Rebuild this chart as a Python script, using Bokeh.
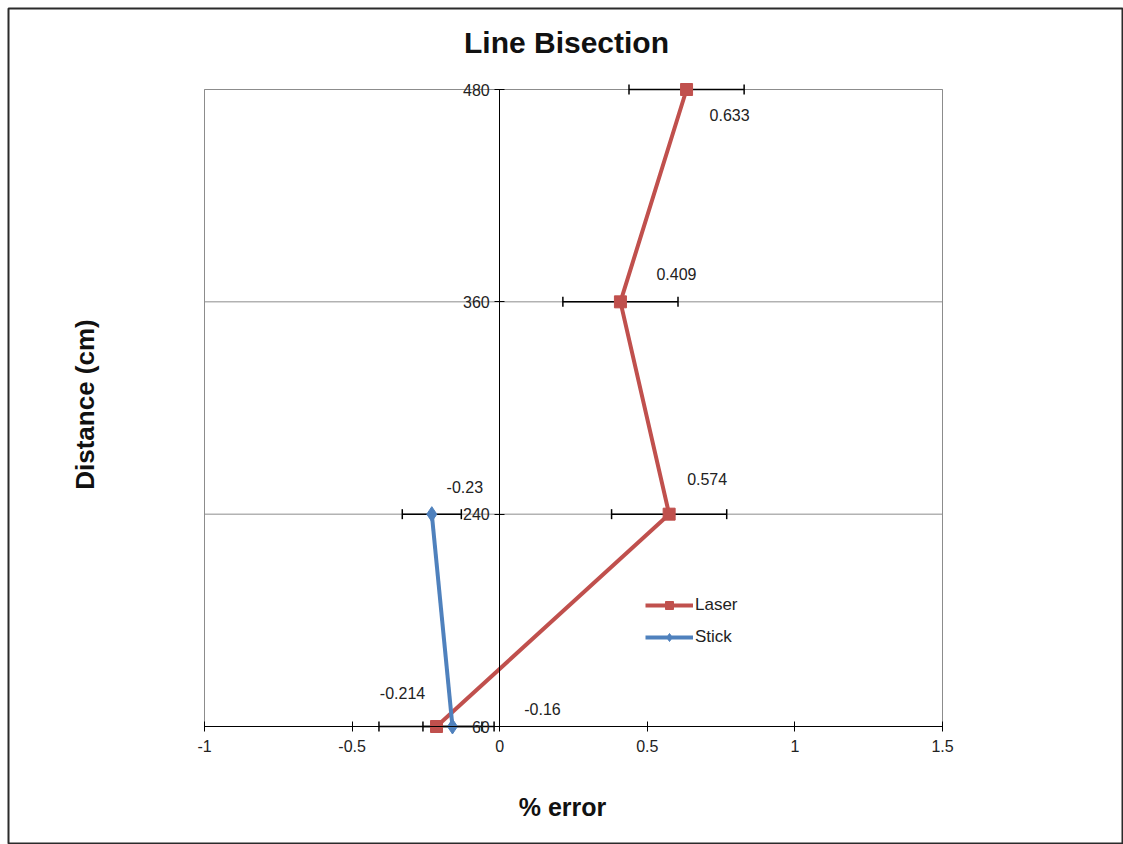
import math
from bokeh.plotting import figure
from bokeh.models import (Range1d, FixedTicker, LinearAxis, Grid, Whisker, TeeHead,
                          ColumnDataSource, Legend, LegendItem)
from bokeh.core.properties import value
from bokeh.embed import file_html
from bokeh.resources import INLINE

# ---------------- data ----------------
distance_categories = ["60", "240", "360", "480"]
laser_distance = ["60", "240", "360", "480"]
laser_error = [-0.214, 0.574, 0.409, 0.633]
laser_errbar = [0.195, 0.195, 0.195, 0.195]
stick_distance = ["60", "240"]
stick_error = [-0.16, -0.23]
stick_errbar = [0.10, 0.10]
x_ticks = [-1, -0.5, 0, 0.5, 1, 1.5]
x_tick_labels = ["-1", "-0.5", "0", "0.5", "1", "1.5"]
series_names = ["Laser", "Stick"]
title_text = "Line Bisection"
x_title = "% error"
y_title = "Distance (cm)"

# ---------------- layout / style ----------------
W, H = 1123, 844
FRAME_L, FRAME_T = 8, 8
PLOT_L, PLOT_R, PLOT_T, PLOT_B = 204, 942, 89, 726
X0, X1 = -1.0, 1.5
n = len(distance_categories)
Y0, Y1 = 0, n - 1
FONT = "Liberation Sans"
RED = "#C0504D"
BLUE = "#4F81BD"
GRID = "#8c8c8c"
TXT = "#222222"

sx = (PLOT_R - PLOT_L) / (X1 - X0)
sy = (PLOT_B - PLOT_T) / (Y1 - Y0)
x_start = X0 - (PLOT_L - FRAME_L) / sx
x_end = X1 + (W - PLOT_R) / sx
y_start = Y0 - (H - PLOT_B) / sy
y_end = Y1 + (PLOT_T - FRAME_T) / sy


def px_x(px):
    return X0 + (px - PLOT_L) / sx


def px_y(py):
    return Y0 + (PLOT_B - py) / sy


pos = {c: i for i, c in enumerate(distance_categories)}

laser_src = ColumnDataSource(dict(
    x=laser_error,
    y=[pos[c] for c in laser_distance],
    lower=[v - e for v, e in zip(laser_error, laser_errbar)],
    upper=[v + e for v, e in zip(laser_error, laser_errbar)],
    label=[f"{v:g}" for v in laser_error],
    dx=[-34, 38, 56, 43],
    dy=[-34, -35, -28, 25],
))
stick_src = ColumnDataSource(dict(
    x=stick_error,
    y=[pos[c] for c in stick_distance],
    lower=[v - e for v, e in zip(stick_error, stick_errbar)],
    upper=[v + e for v, e in zip(stick_error, stick_errbar)],
    label=[f"{v:g}" for v in stick_error],
    dx=[90, 33],
    dy=[-18, -27],
))

p = figure(width=W, height=H,
           x_range=Range1d(x_start, x_end), y_range=Range1d(y_start, y_end),
           x_axis_location=None, y_axis_location=None,
           output_backend="svg", toolbar_location=None,
           min_border_left=FRAME_L, min_border_top=FRAME_T,
           min_border_right=0, min_border_bottom=0)
p.outline_line_color = "#2b2b2b"
p.outline_line_width = 2
p.background_fill_color = "white"
p.border_fill_color = "white"
# drop any default grids
p.center = [r for r in p.center if not isinstance(r, Grid)]

# horizontal gridlines at each category, limited to the plot area
p.segment(x0=[X0] * n, x1=[X1] * n, y0=list(range(n)), y1=list(range(n)),
          line_color=GRID, line_width=1, level="underlay")

# plot-area border
p.quad(left=[X0], right=[X1], bottom=[Y0], top=[Y1],
       fill_color=None, line_color=GRID, line_width=1, level="underlay")

# x axis along y = first category
xaxis = LinearAxis(fixed_location=Y0, bounds=(X0, X1),
                   ticker=FixedTicker(ticks=x_ticks),
                   major_label_overrides={t: l for t, l in zip(x_ticks, x_tick_labels)})
xaxis.axis_line_color = "black"
xaxis.major_tick_line_color = "black"
xaxis.major_tick_in = 5
xaxis.major_tick_out = 5
xaxis.minor_tick_line_color = None
xaxis.major_label_standoff = 8
xaxis.major_label_text_font = FONT
xaxis.major_label_text_font_size = "16px"
xaxis.major_label_text_color = TXT
p.add_layout(xaxis, "below")

# y axis at x = 0
yaxis = LinearAxis(fixed_location=0, bounds=(Y0, Y1),
                   ticker=FixedTicker(ticks=list(range(n))),
                   major_label_overrides={i: c for i, c in enumerate(distance_categories)})
yaxis.axis_line_color = "black"
yaxis.major_tick_line_color = "black"
yaxis.major_tick_in = 5
yaxis.major_tick_out = 5
yaxis.minor_tick_line_color = None
yaxis.major_label_standoff = 5
yaxis.major_label_text_font = FONT
yaxis.major_label_text_font_size = "16px"
yaxis.major_label_text_color = TXT
p.add_layout(yaxis, "left")

# error bars
for src in (laser_src, stick_src):
    p.add_layout(Whisker(source=src, base="y", lower="lower", upper="upper",
                         dimension="width", line_color="black", line_width=1.5,
                         level="underlay",
                         upper_head=TeeHead(size=10, line_color="black", line_width=1.5),
                         lower_head=TeeHead(size=10, line_color="black", line_width=1.5)))

# series
laser_line = p.line("x", "y", source=laser_src, line_color=RED, line_width=4)
laser_pts = p.scatter("x", "y", source=laser_src, marker="square", size=12,
                      fill_color=RED, line_color=RED)
stick_line = p.line("x", "y", source=stick_src, line_color=BLUE, line_width=4)
stick_pts = p.scatter("x", "y", source=stick_src, marker="diamond", size=15,
                      fill_color=BLUE, line_color=BLUE)

# data labels
for src in (laser_src, stick_src):
    p.text("x", "y", text="label", source=src, x_offset="dx", y_offset="dy",
           text_align="center", text_baseline="middle",
           text_font=value(FONT), text_font_size="16px", text_color=TXT)

# titles
p.text(x=[px_x(566)], y=[px_y(42)], text=[title_text], text_align="center",
       text_baseline="middle", text_font=value(FONT), text_font_size="30px",
       text_font_style="bold", text_color="#111111")
p.text(x=[px_x(562)], y=[px_y(806)], text=[x_title], text_align="center",
       text_baseline="middle", text_font=value(FONT), text_font_size="25px",
       text_font_style="bold", text_color="#111111")
p.text(x=[px_x(84)], y=[px_y(404)], text=[y_title], angle=math.pi / 2,
       text_align="center", text_baseline="middle", text_font=value(FONT),
       text_font_size="26px", text_font_style="bold", text_color="#111111")

legend = Legend(items=[LegendItem(label=series_names[0], renderers=[laser_line, laser_pts]),
                       LegendItem(label=series_names[1], renderers=[stick_line, stick_pts])],
                location=(637, 197), orientation="vertical",
                glyph_width=48, glyph_height=20, label_height=20, spacing=12,
                padding=0, margin=0, label_standoff=2,
                border_line_color=None, background_fill_alpha=0,
                label_text_font=FONT, label_text_font_size="17px", label_text_color=TXT)
p.add_layout(legend)

open("out.html", "w").write(file_html(p, INLINE))
